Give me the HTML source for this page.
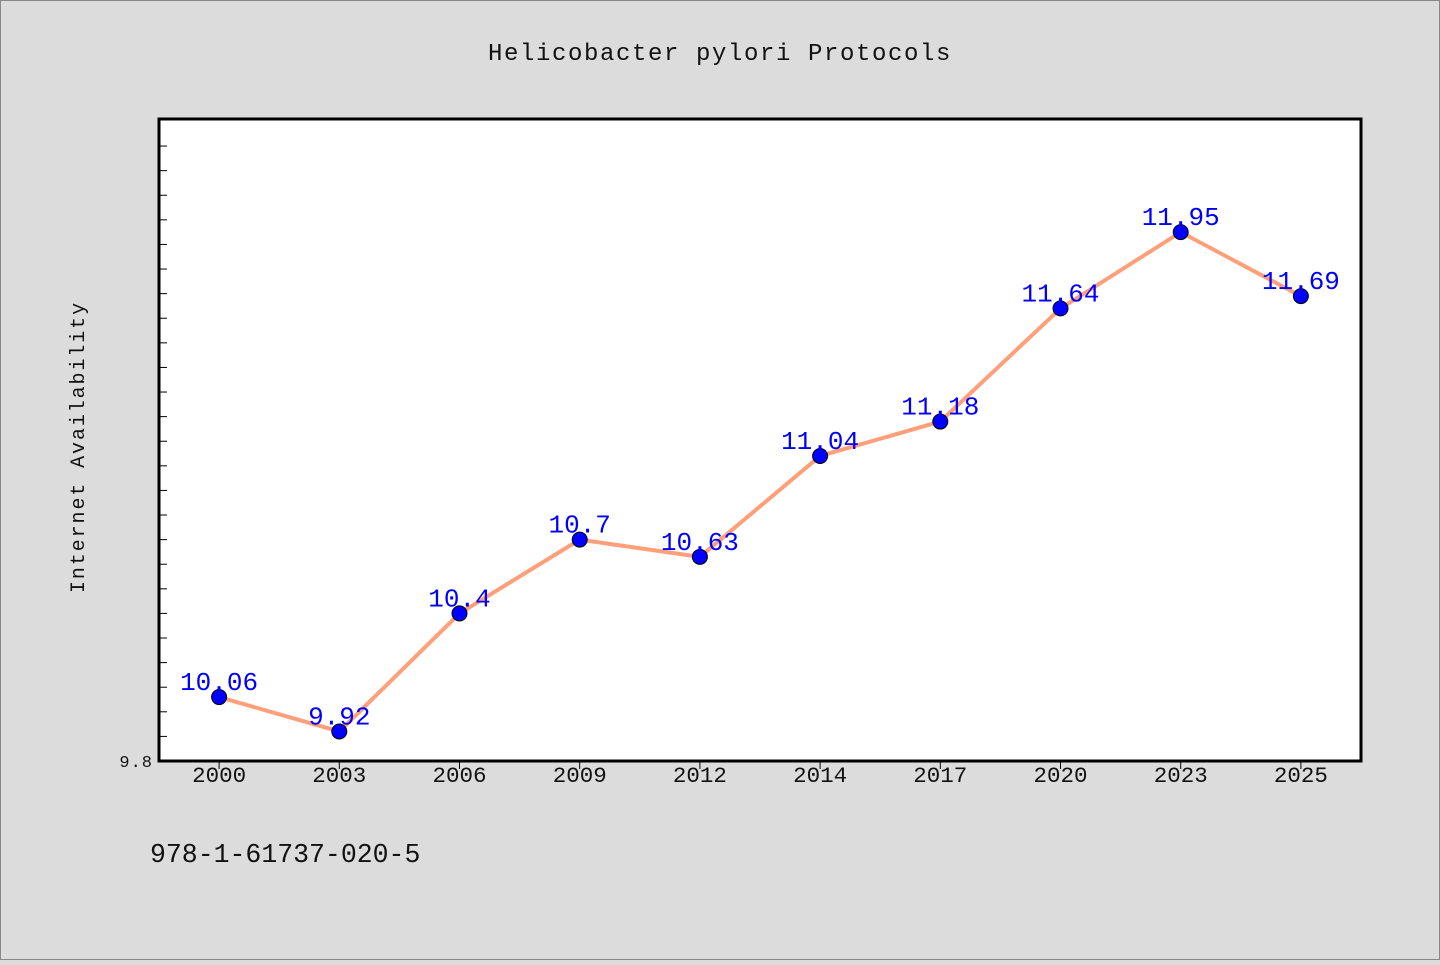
<!DOCTYPE html>
<html><head><meta charset="utf-8"><style>
body{margin:0;background:#dcdcdc;}
svg text{font-family:"Liberation Mono","DejaVu Sans Mono",monospace;}
</style></head><body>
<svg width="1440" height="960" xmlns="http://www.w3.org/2000/svg">
<rect x="0.5" y="0.5" width="1439" height="959" fill="#dcdcdc" stroke="#888"/>
<text x="720" y="60" text-anchor="middle" font-size="24" letter-spacing="1.6" fill="#111">Helicobacter pylori Protocols</text>
<rect x="159" y="119" width="1202" height="642" fill="#fff" stroke="#000" stroke-width="3"/>
<text transform="translate(84,447) rotate(-90)" text-anchor="middle" font-size="20" letter-spacing="1.9" fill="#111">Internet Availability</text>
<text x="150" y="862" font-size="26.5" fill="#111">978-1-61737-020-5</text>
<g id="axes"></g>
<g id="marks"></g>
</svg>
<script>
const categories=["2000","2003","2006","2009","2012","2014","2017","2020","2023","2025"];
const values=[10.06,9.92,10.4,10.7,10.63,11.04,11.18,11.64,11.95,11.69];
const yMin=9.8, yMax=12.41;
const L=159,R=1361,T=119,B=761;
const ns="http://www.w3.org/2000/svg";
const bw=(R-L)/categories.length;
function x(i){return L+bw*(i+0.5);}
function y(v){return B-(v-yMin)/(yMax-yMin)*(B-T);}
function mk(t,a,p){const e=document.createElementNS(ns,t);for(const k in a)e.setAttribute(k,a[k]);p.appendChild(e);return e;}
const ax=document.getElementById('axes'),mg=document.getElementById('marks');
for(let k=1;k<=25;k++){const v=yMin+k*0.1;const yy=y(v);
const t=mk('line',{x1:L,x2:L+8,y1:yy,y2:yy,stroke:'#000','stroke-width':1},ax);

}
const yl=mk('text',{x:153,y:767,'text-anchor':'end','font-size':17,'letter-spacing':1,fill:'#111'},ax);yl.textContent='9.8';


categories.forEach((c,i)=>{
const t=mk('line',{x1:x(i),x2:x(i),y1:B,y2:B+8,stroke:'#000','stroke-width':1},ax);


const l=mk('text',{x:x(i),y:782,'text-anchor':'middle','font-size':22.5,fill:'#111'},ax);l.textContent=c;

});
const pl=mk('polyline',{points:values.map((v,i)=>x(i)+','+y(v)).join(' '),fill:'none',stroke:'#ffa07a','stroke-width':4},mg);


values.forEach((v,i)=>{
const c=mk('circle',{cx:x(i),cy:y(v),r:7.5,fill:'#0000ff',stroke:'#000','stroke-width':1},mg);


const t=mk('text',{x:x(i),y:y(v)-7,'text-anchor':'middle','font-size':26,fill:'#0000ff'},mg);t.textContent=String(v);

});
</script>
</body></html>
